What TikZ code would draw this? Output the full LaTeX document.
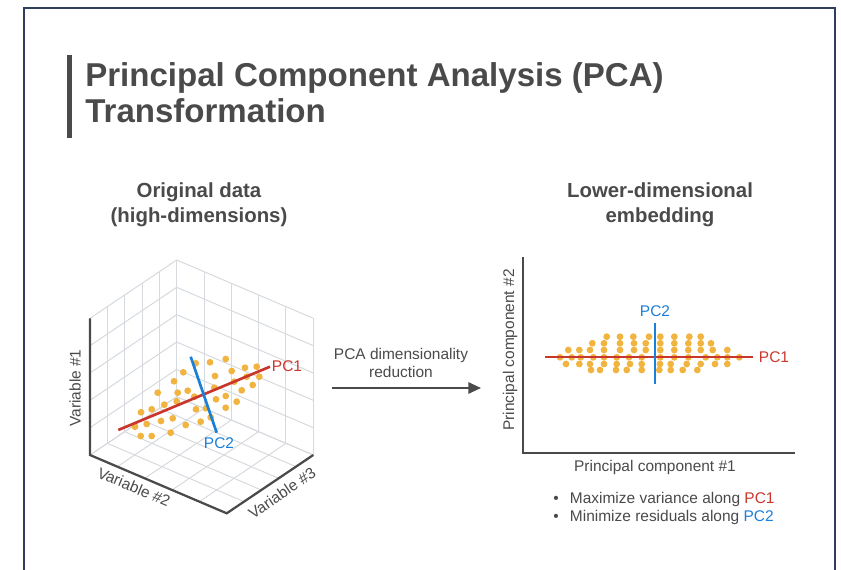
\documentclass[tikz,border=0pt]{standalone}
\usepackage{fontspec}
\setmainfont{Liberation Sans}
\usetikzlibrary{arrows.meta,calc}

\definecolor{framecol}{HTML}{2E3E5C}
\definecolor{inkgray}{HTML}{4A4A4A}
\definecolor{gridgray}{HTML}{D6D9DD}
\definecolor{dotyellow}{HTML}{F2B441}
\definecolor{pcred}{HTML}{C9372C}
\definecolor{pcblue}{HTML}{1A7FD9}

\tikzset{
  lbl/.style={font=\fontsize{11}{13}\selectfont, text=inkgray, inner sep=1pt},
  head/.style={font=\fontsize{14.5}{18}\selectfont\bfseries, text=inkgray, align=center},
  titletxt/.style={font=\fontsize{23.5}{26}\selectfont\bfseries, text=inkgray, inner sep=0pt},
  gridln/.style={draw=gridgray, line width=0.7pt},
  axisln/.style={draw=inkgray, line width=1.6pt},
  datadot/.style={fill=dotyellow},
  pcone/.style={draw=pcred, line width=1.9pt},
  pctwo/.style={draw=pcblue, line width=1.9pt},
}

\begin{document}
\begin{tikzpicture}[x=0.025cm, y=-0.025cm]
  \useasboundingbox (0,0) rectangle (841,570);

  % Frame
  \draw[framecol, line width=0.8pt] (24,570) -- (24,8) -- (835,8) -- (835,570);

  % Title
  \fill[inkgray] (67,55) rectangle (72,138);
  \node[titletxt, anchor=base west] (title1) at (85,87) {Principal Component Analysis (PCA)};
  \node[titletxt, anchor=base west] (title2) at (85,123) {Transformation};

  % Headings
  \node[head] (lefthead) at (199,205) {Original data\\(high-dimensions)};
  \node[head] (righthead) at (660,205) {Lower-dimensional\\embedding};

  % 3D box corners
  \coordinate (O) at (176.7,396.7);
  \coordinate (A) at (313.3,455);
  \coordinate (B) at (90,455);
  \coordinate (F) at (226.7,513.3);
  \coordinate (OT) at (176.7,260);
  \coordinate (AT) at (313.3,318.3);
  \coordinate (BT) at (90,318.3);

  % Grid on the three walls
  \foreach \i in {0,...,5}{
    \draw[gridln] ($(O)!\i/5!(B)$) -- ($(OT)!\i/5!(BT)$);
    \draw[gridln] ($(O)!\i/5!(OT)$) -- ($(B)!\i/5!(BT)$);
    \draw[gridln] ($(O)!\i/5!(A)$) -- ($(OT)!\i/5!(AT)$);
    \draw[gridln] ($(O)!\i/5!(OT)$) -- ($(A)!\i/5!(AT)$);
    \draw[gridln] ($(O)!\i/5!(A)$) -- ($(B)!\i/5!(F)$);
    \draw[gridln] ($(O)!\i/5!(B)$) -- ($(A)!\i/5!(F)$);
  }
  \draw[axisln] (BT) -- (B) -- (F) -- (A);

  \node[lbl, rotate=90] (var1) at (75,388) {Variable \#1};
  \node[lbl, rotate=-23] (var2) at (134,487) {Variable \#2};
  \node[lbl, rotate=34] (var3) at (282,493) {Variable \#3};

  % Data cloud
  \foreach \x/\y in {183.3/372.3, 195.7/363.3, 210/362.3, 225.7/359, 245/367.7,
      256.7/366.7, 231.7/371, 215/376, 259.3/376.7, 246.7/376.7, 174/381.3,
      187.7/390.7, 177.7/392.7, 214.3/387.7, 234.3/381.7, 241.7/390.3,
      252.7/385, 157.7/392.7, 164.3/404.7, 176.7/401.3, 194.3/396.7, 196/409.3,
      206/408.3, 216/399.3, 225.7/396, 236.7/401.7, 225.7/407.7, 141/412.3,
      151.7/409.3, 146.7/424, 161/421, 172.7/418.3, 185.7/425, 200.7/421.7,
      210.7/417.3, 135/426.7, 140.7/436, 151.7/436, 170.7/432.7}
    \fill[datadot] (\x,\y) circle (3.4);

  % Principal directions
  \coordinate (pc1a) at (118.3,430);
  \coordinate (pc1b) at (270,366.7);
  \coordinate (pc2a) at (190.7,356.7);
  \coordinate (pc2b) at (216.7,432.7);
  \draw[pcone] (pc1a) -- (pc1b);
  \draw[pctwo] (pc2a) -- (pc2b);
  \node[lbl, text=pcred] (pc1lbl) at (287,366) {PC1};
  \node[lbl, text=pcblue] (pc2lbl) at (219,443) {PC2};

  % Reduction arrow
  \coordinate (arrfrom) at (332,388);
  \coordinate (arrto) at (481,388);
  \draw[inkgray, line width=1.5pt, -{Triangle[length=9pt, width=8pt]}] (arrfrom) -- (arrto);
  \node[lbl, align=center, font=\fontsize{11}{12.5}\selectfont] (arrlbl) at (401,363) {PCA dimensionality\\reduction};

  % 2D embedding
  \coordinate (ytop) at (523,257);
  \coordinate (orig2) at (523,453);
  \coordinate (xend) at (795,453);
  \draw[axisln] (ytop) -- (orig2) -- (xend);
  \node[lbl, rotate=90] (pcy) at (510,350) {Principal component \#2};
  \node[lbl] (pcx) at (655,467) {Principal component \#1};

  \foreach \x/\y in {606.7/336.7, 620/336.7, 633.3/336.7, 649/336.7, 660.3/336.7,
      674.3/336.7, 689.3/336.7, 700.7/336.7,
      592.3/343.3, 604/343.3, 620/343.3, 634/343.3, 645.7/343.3, 660.3/343.3,
      674.3/343.3, 688.3/343.3, 700.7/343.3, 711/343.3,
      568.3/350, 579.3/350, 590/350, 604/350, 620/350, 634/350, 645.7/350,
      660.3/350, 674.3/350, 688.3/350, 700.7/350, 712.7/350, 727.3/350,
      560/357.3, 571.7/357.3, 580.7/357.3, 593.3/357.3, 604/357.3, 616.7/357.3,
      629/357.3, 641.7/357.3, 660.3/357.3, 674.3/357.3, 688.3/357.3, 705.7/357.3,
      717.3/357.3, 727.3/357.3, 739.3/357.3,
      566/364, 579.3/364, 590/364, 604/364, 616.7/364, 630/364, 641.7/364,
      660/364, 670.7/364, 686.7/364, 700.7/364, 715/364, 727.3/364,
      591/370, 600/370, 616/370, 626.7/370, 641.7/370, 659.3/370, 670.7/370,
      682.7/370, 697.3/370}
    \fill[datadot] (\x,\y) circle (3.4);

  \coordinate (epc1a) at (545,357);
  \coordinate (epc1b) at (753,357);
  \coordinate (epc2a) at (655,323);
  \coordinate (epc2b) at (655,384);
  \draw[pcone] (epc1a) -- (epc1b);
  \draw[pctwo] (epc2a) -- (epc2b);
  \node[lbl, text=pcred] (epc1lbl) at (774,357) {PC1};
  \node[lbl, text=pcblue] (epc2lbl) at (655,311) {PC2};

  % Notes
  \node[lbl, anchor=west, inner sep=0pt] (note1) at (553,499)
    {\textbullet\hspace{8pt}Maximize variance along \textcolor{pcred}{PC1}};
  \node[lbl, anchor=west, inner sep=0pt] (note2) at (553,517)
    {\textbullet\hspace{8pt}Minimize residuals along \textcolor{pcblue}{PC2}};
\end{tikzpicture}
\end{document}
